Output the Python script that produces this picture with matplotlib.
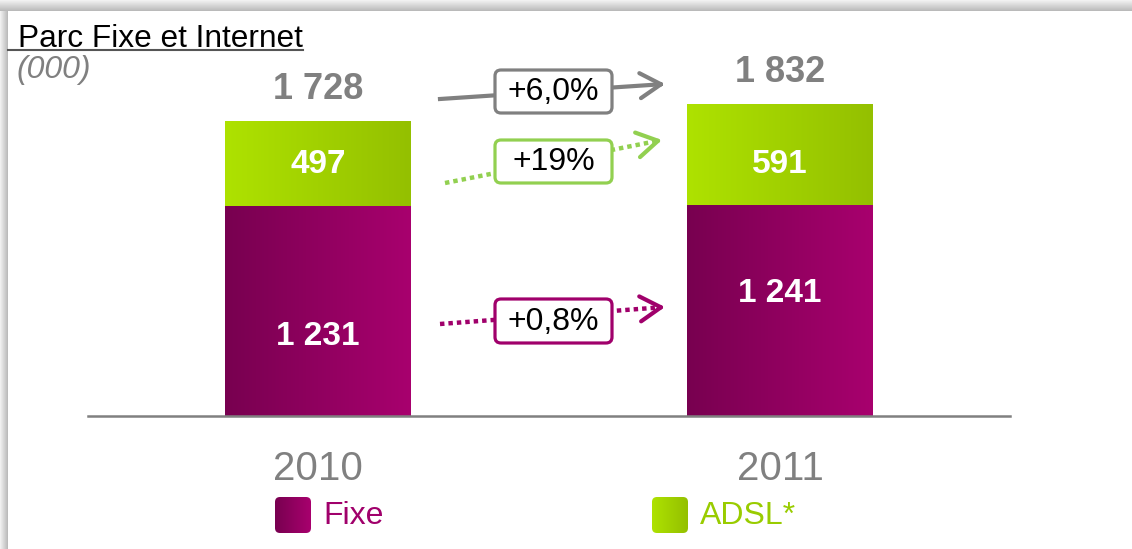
import numpy as np
import matplotlib
matplotlib.use('Agg')
import matplotlib.pyplot as plt
from matplotlib.patches import FancyBboxPatch
from matplotlib.colors import to_rgb

plt.rcParams['font.family'] = ['Liberation Sans', 'DejaVu Sans']

# données (milliers)
annees = ['2010', '2011']
fixe = [1231, 1241]
adsl = [497, 591]
totaux = ['1 728', '1 832']
lab_fixe = ['1 231', '1 241']
lab_adsl = ['497', '591']
evolutions = ['+6,0%', '+19%', '+0,8%']

# couleurs (gauche -> droite du dégradé)
fixe_cols = ('#780050', '#A8006E')
adsl_cols = ('#AEE200', '#94C000')
gris = '#808080'
magenta = '#A0006B'
vert_fleche = '#92D050'

W, H = 1132, 549
fig = plt.figure(figsize=(W / 100, H / 100), dpi=100)

# axe des barres : base à y=416 px, 0.1702 px par millier
k = 0.1702
base_px = 416
ax = fig.add_axes([0, 0, 1, 1])
ax.set_xlim(-318 / 462, (W - 318) / 462)
ax.set_ylim((base_px - H) / k, base_px / k)
ax.axis('off')

# calque en pixels pour le décor
ov = fig.add_axes([0, 0, 1, 1], zorder=5)
ov.set_xlim(0, W)
ov.set_ylim(H, 0)
ov.axis('off')
ov.patch.set_alpha(0)


def degrade(axe, x0, x1, y0, y1, c1, c2, vertical=False, z=2, clip=None):
    t = np.linspace(0, 1, 256)
    a, b = np.array(to_rgb(c1)), np.array(to_rgb(c2))
    g = a[None, :] * (1 - t[:, None]) + b[None, :] * t[:, None]
    img = g[:, None, :] if vertical else g[None, :, :]
    im = axe.imshow(img, extent=[x0, x1, y0, y1], aspect='auto',
                    interpolation='bilinear', zorder=z)
    if clip is not None:
        im.set_clip_path(clip)
    return im


x = np.arange(len(annees))
larg = 186 / 462
pos_lab_fixe = [0.38, 0.58]
pos_lab_adsl = [0.5, 0.4]
for i in range(len(annees)):
    degrade(ax, x[i] - larg / 2, x[i] + larg / 2, 0, fixe[i], *fixe_cols)
    degrade(ax, x[i] - larg / 2, x[i] + larg / 2, fixe[i], fixe[i] + adsl[i], *adsl_cols)
    ax.text(x[i], fixe[i] * pos_lab_fixe[i], lab_fixe[i], color='white',
            fontsize=24, fontweight='bold', ha='center', va='center', zorder=4)
    ax.text(x[i], fixe[i] + adsl[i] * pos_lab_adsl[i], lab_adsl[i], color='white',
            fontsize=24, fontweight='bold', ha='center', va='center', zorder=4)
    ax.text(x[i], fixe[i] + adsl[i] + 32 / k, totaux[i], color=gris,
            fontsize=26, fontweight='bold', ha='center', va='center')
    ax.text(x[i], -53 / k, annees[i], color=gris, fontsize=29,
            ha='center', va='center')
ax.set_xlim(-318 / 462, (W - 318) / 462)
ax.set_ylim((base_px - H) / k, base_px / k)

# ligne de base
ov.plot([88, 1010], [416, 416], color=gris, lw=1.8, zorder=3)

# cadre (ombre grise en haut et à gauche)
degrade(ov, 0, W, 11, 0, '#F4F4F4', '#B8B8B8', vertical=True, z=1)
degrade(ov, 0, 8, H, 11, '#F4F4F4', '#B8B8B8', z=1)
ov.set_xlim(0, W)
ov.set_ylim(H, 0)

# titre
ov.text(18, 47, 'Parc Fixe et Internet', fontsize=22.8, color='black', va='baseline')
ov.plot([8, 303], [50, 50], color='#555555', lw=1.5)
ov.text(17, 70, '(000)', fontsize=23, color=gris, style='italic', va='center')

# flèches d'évolution
fleches = [((440, 99), (665, 84), gris, '-'),
           ((445, 183), (662, 140), vert_fleche, ':'),
           ((440, 324), (665, 307), magenta, ':')]
boites = [(495, 70, 117, 43), (495, 140, 117, 43), (495, 299, 117, 44)]
for (p0, p1, c, ls), (bx, by, bw, bh), txt in zip(fleches, boites, evolutions):
    d = np.array(p1) - np.array(p0)
    avant = np.array(p1) - d / np.linalg.norm(d) * 6
    if ls == '-':
        ov.plot([p0[0], avant[0]], [p0[1], avant[1]], color=c, lw=3, zorder=6)
    else:
        ov.plot([p0[0], avant[0]], [p0[1], avant[1]], color=c, lw=3.2, zorder=6,
                linestyle=(0, (1, 0.9)), dash_capstyle='butt')
    ov.annotate('', xy=p1, xytext=avant,
                arrowprops=dict(arrowstyle='->,head_length=15,head_width=9',
                                mutation_scale=1, lw=3, color=c,
                                shrinkA=0, shrinkB=0), zorder=6)
    ov.add_patch(FancyBboxPatch((bx, by), bw, bh,
                                boxstyle='round,pad=0,rounding_size=6',
                                facecolor='white', edgecolor=c, lw=2.3, zorder=7))
    ov.text(bx + bw / 2, by + bh / 2 + 1, txt, fontsize=23, color='black',
            ha='center', va='center', zorder=8)

# légende
legende = [('Fixe', fixe_cols, magenta, 275), ('ADSL*', adsl_cols, '#99CC00', 652)]
for nom, cols, ctxt, lx in legende:
    carre = FancyBboxPatch((lx, 497), 36, 36, boxstyle='round,pad=0,rounding_size=5',
                           facecolor='none', edgecolor='none', zorder=3)
    ov.add_patch(carre)
    degrade(ov, lx, lx + 36, 533, 497, *cols, z=3, clip=carre)
    ov.text(lx + 48, 516, nom, fontsize=23, color=ctxt, va='center')
ov.set_xlim(0, W)
ov.set_ylim(H, 0)

fig.savefig('out.png', dpi=100)
